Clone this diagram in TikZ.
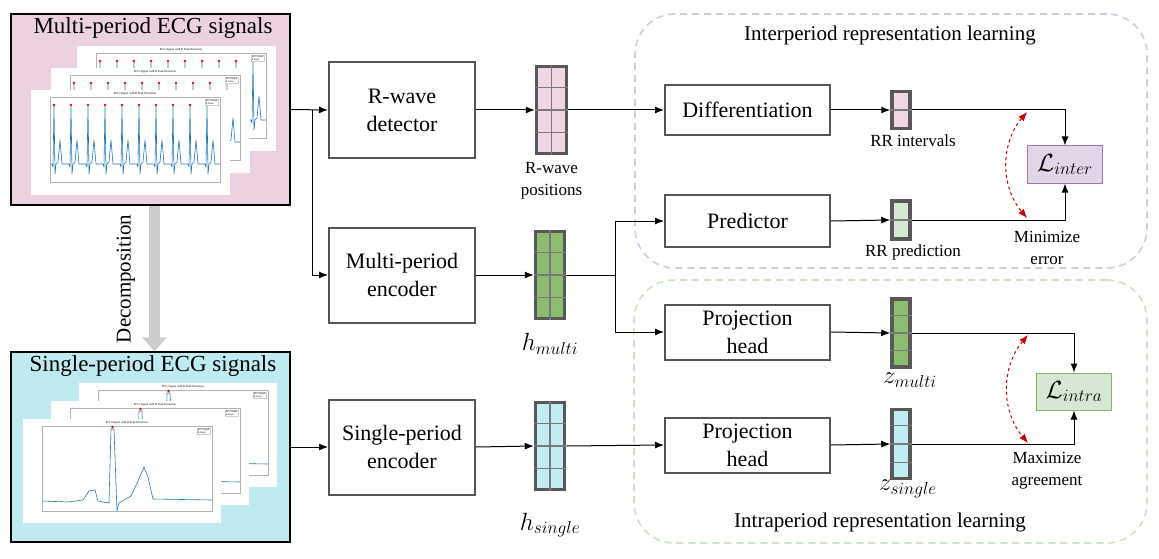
\documentclass[tikz,border=0pt]{standalone}
\usepackage{fontspec}
\setmainfont{Liberation Serif}
\usepackage{tikz}
\usetikzlibrary{positioning}
\usetikzlibrary{calc}
\usetikzlibrary{arrows.meta}
\definecolor{multi-bg}{RGB}{236,210,225}
\definecolor{single-bg}{RGB}{190,234,240}
\definecolor{vec-pink}{RGB}{240,214,228}
\definecolor{vec-green}{RGB}{140,188,112}
\definecolor{vec-cyan}{RGB}{192,236,242}
\definecolor{vec-lgreen}{RGB}{214,232,212}
\definecolor{vec-gray}{RGB}{88,88,88}
\definecolor{box-gray}{RGB}{85,85,85}
\definecolor{inter-fill}{RGB}{225,213,232}
\definecolor{inter-line}{RGB}{160,118,180}
\definecolor{intra-fill}{RGB}{214,232,212}
\definecolor{intra-line}{RGB}{128,182,100}
\definecolor{inter-reg}{RGB}{212,200,232}
\definecolor{intra-reg}{RGB}{205,228,195}
\definecolor{ecg-blue}{RGB}{31,119,180}

\begin{document}
\begin{tikzpicture}[x=1pt, y=-1pt, >={Latex[length=9pt,width=7pt]}]
    \tikzset{ pnl/.style={draw=black, line width=1.2pt, minimum width=279pt, minimum height=190pt} }
    \tikzset{ ttl/.style={font=\fontsize{23}{27}\selectfont, inner sep=0pt} }
    \tikzset{ blk/.style={draw=box-gray, line width=2pt, fill=white, minimum width=146pt, minimum height=95pt, align=center, font=\fontsize{22}{28}\selectfont} }
    \tikzset{ opr/.style={draw=box-gray, line width=2pt, fill=white, minimum width=165pt, align=center, font=\fontsize{22}{28}\selectfont} }
    \tikzset{ vec/.style={draw=vec-gray, line width=3.5pt, inner sep=0pt} }
    \tikzset{ cell/.style={draw=vec-gray!80, line width=1.2pt} }
    \tikzset{ loss/.style={line width=1pt, minimum width=75pt, minimum height=37pt, inner sep=0pt, font=\fontsize{26}{30}\selectfont} }
    \tikzset{ reg/.style={rounded corners=40pt, dash pattern=on 7pt off 5pt, line width=1.6pt} }
    \tikzset{ lbl/.style={font=\fontsize{17}{22}\selectfont, align=center, inner sep=0pt} }
    \tikzset{ sym/.style={font=\fontsize{27}{30}\selectfont, inner sep=0pt} }
    \tikzset{ lnk/.style={->, line width=1pt} }
    \tikzset{ agr/.style={<->, dashed, red!80!black, line width=1pt} }
    \tikzset{ ecg/.style={ecg-blue, line width=0.6pt, line join=round} }
    \tikzset{ axfr/.style={draw=gray!60, line width=0.4pt} }
    \tikzset{ ptitle/.style={font=\fontsize{3}{3.5}\selectfont, inner sep=0pt} }
    \tikzset{ pleg/.style={font=\fontsize{2.4}{3}\selectfont, align=left, inner sep=0.5pt, draw=gray!40, line width=0.2pt, fill=white} }

    \useasboundingbox (0,0) rectangle (1159,559);

    % regions
    \node[reg, draw=inter-reg, minimum width=512pt, minimum height=254pt] (interreg) at (891,141)   {};
    \node[reg, draw=intra-reg, minimum width=513pt, minimum height=263pt] (intrareg) at (890.5,411.5) {};
    \node[font=\fontsize{21}{25}\selectfont] (intertitle) at (890,35)  {Interperiod representation learning};
    \node[font=\fontsize{21}{25}\selectfont] (intratitle) at (880,522) {Intraperiod representation learning};

    % input panels
    \node[pnl, fill=multi-bg,  minimum height=191pt] (mpanel) at (150.5,109.5) {};
    \node[pnl, fill=single-bg]                         (spanel) at (150.5,447)   {};

    \foreach \ox/\oy in {77/46, 51/68, 31/90} {
        \fill[white] (\ox,\oy) rectangle ++(199,105);
        \draw[axfr] (\ox+19,\oy+7) rectangle (\ox+189,\oy+92);
        \node[ptitle] (mtit\ox) at (\ox+104,\oy+3.5) {ECG Signal with R Peak Detection};
        \draw[ecg] (\ox+19,\oy+74) \foreach \k in {0,...,9} { -- ++(2,0) -- ++(1,3) -- ++(1,-61) -- ++(1,68) -- ++(1,-10) -- ++(2,-2) -- ++(2,-22) -- ++(2,24) -- ++(5,0) };
        \foreach \k in {0,...,9} \fill[red] (\ox+23+17*\k,\oy+15) circle (1.3pt);
        \node[pleg, anchor=north east] (mleg\ox) at (\ox+187,\oy+9) {ECG Signal\\R Peaks};
    }
    \foreach \ox/\oy in {79/383, 51/401, 23/419} {
        \fill[white] (\ox,\oy) rectangle ++(198,104);
        \draw[axfr] (\ox+19,\oy+7) rectangle (\ox+189,\oy+92);
        \node[ptitle] (stit\ox) at (\ox+104,\oy+3.5) {ECG Signal with R Peak Detection};
        \draw[ecg] (\ox+20,\oy+82) -- (\ox+45,\oy+83) -- (\ox+60,\oy+81) -- (\ox+66,\oy+72) -- (\ox+72,\oy+71) -- (\ox+75,\oy+82) -- (\ox+86,\oy+84) -- (\ox+88,\oy+10) -- (\ox+91,\oy+10) -- (\ox+94,\oy+92) -- (\ox+96,\oy+84) -- (\ox+108,\oy+77) -- (\ox+115,\oy+62) -- (\ox+121,\oy+48) -- (\ox+125,\oy+58) -- (\ox+130,\oy+80) -- (\ox+189,\oy+81);
        \fill[red] (\ox+89.5,\oy+8) circle (1.3pt);
        \node[pleg, anchor=north east] (sleg\ox) at (\ox+187,\oy+9) {ECG Signal\\R Peaks};
    }
    \node[ttl] (mtitle) at (153,28)  {Multi-period ECG signals};
    \node[ttl] (stitle) at (153,366) {Single-period ECG signals};

    \draw[-{Triangle[width=24pt,length=14pt]}, line width=11pt, gray!40] ([xshift=4pt]mpanel.south) -- ([xshift=4pt]spanel.north);
    \node[rotate=90, font=\fontsize{21}{25}\selectfont] (declbl) at (126,279) {Decomposition};

    % encoders
    \node[blk] (rdet) at (402,110) {R-wave\\detector};
    \node[blk] (menc) at (402,275) {Multi-period\\encoder};
    \node[blk] (senc) at (402,447) {Single-period\\encoder};

    \node[vec, fill=vec-pink,  minimum width=30pt, minimum height=87pt] (rpos) at (551.5,110) {};
    \node[vec, fill=vec-green, minimum width=29pt, minimum height=87pt] (hmul) at (550,275)   {};
    \node[vec, fill=vec-cyan,  minimum width=29pt, minimum height=87pt] (hsin) at (550,446)   {};

    \node[lbl, below=7pt of rpos] (rposlbl) {R-wave\\positions};
    \node[sym] (hmullbl) at (550,344) {$h_{multi}$};
    \node[sym] (hsinlbl) at (550,525) {$h_{single}$};

    % heads
    \node[opr, minimum height=50pt] (diff)  at (747.5,110) {Differentiation};
    \node[opr, minimum height=52pt] (pred)  at (747.5,221) {Predictor};
    \node[opr, minimum height=55pt] (proj1) at (747.5,332) {Projection\\head};
    \node[opr, minimum height=55pt] (proj2) at (747.5,445) {Projection\\head};

    \node[vec, fill=vec-pink,   minimum width=18pt, minimum height=37pt] (rri)  at (901,110) {};
    \node[vec, fill=vec-lgreen, minimum width=18pt, minimum height=38pt] (rrp)  at (901,220) {};
    \node[vec, fill=vec-green,  minimum width=18pt, minimum height=68pt] (zmul) at (901,333) {};
    \node[vec, fill=vec-cyan,   minimum width=18pt, minimum height=69pt] (zsin) at (901,444) {};

    \node[lbl] (rrilbl)  at (913,141) {RR intervals};
    \node[lbl] (rrplbl)  at (913,252) {RR prediction};
    \node[sym] (zmullbl) at (910,380) {$z_{multi}$};
    \node[sym] (zsinlbl) at (908,489) {$z_{single}$};

    \node[loss, draw=inter-line, fill=inter-fill] (linter) at (1065,164.5) {$\mathcal{L}_{inter}$};
    \node[loss, draw=intra-line, fill=intra-fill] (lintra) at (1074,391.5) {$\mathcal{L}_{intra}$};
    \node[lbl] (minlbl) at (1047,248) {Minimize\\error};
    \node[lbl] (maxlbl) at (1047,471) {Maximize\\agreement};

    % cells
    \foreach \v in {rpos,hmul,hsin} {
        \draw[cell] (\v.north) -- (\v.south);
        \foreach \i in {1,2,3} \draw[cell] ($(\v.north west)!\i/4!(\v.south west)$) -- ($(\v.north east)!\i/4!(\v.south east)$);
    }
    \foreach \v in {zmul,zsin} {
        \foreach \i in {1,2,3} \draw[cell] ($(\v.north west)!\i/4!(\v.south west)$) -- ($(\v.north east)!\i/4!(\v.south east)$);
    }
    \foreach \v in {rri,rrp} \draw[cell] (\v.west) -- (\v.east);

    % connectors
    \coordinate (br1) at (312,110);
    \coordinate (br2) at (615,275);
    \draw[lnk] (mpanel.east) -- (rdet.west);
    \draw[lnk] (br1) |- (menc.west);
    \draw[lnk] (spanel.east) -- (senc.west);
    \draw[lnk] (rdet.east) -- (rpos.west);
    \draw[lnk] (menc.east) -- (hmul.west);
    \draw[lnk] (senc.east) -- (hsin.west);
    \draw[lnk] (rpos.east) -- (diff.west);
    \draw[line width=1pt] (hmul.east) -- (br2);
    \draw[lnk] (br2) |- (pred.west);
    \draw[lnk] (br2) |- (proj1.west);
    \draw[lnk] (hsin.east) -- (proj2.west);
    \draw[lnk] (diff.east)  -- (rri.west);
    \draw[lnk] (pred.east)  -- (rrp.west);
    \draw[lnk] (proj1.east) -- (zmul.west);
    \draw[lnk] (proj2.east) -- (zsin.west);
    \draw[lnk] (rri.east)  -| (linter.north);
    \draw[lnk] (rrp.east)  -| (linter.south);
    \draw[lnk] (zmul.east) -| (lintra.north);
    \draw[lnk] (zsin.east) -| (lintra.south);

    \coordinate (ea) at (1027,112);
    \coordinate (eb) at (1027,218);
    \coordinate (aa) at (1028,335);
    \coordinate (ab) at (1028,443);
    \draw[agr] (ea) to[bend right=40] (eb);
    \draw[agr] (aa) to[bend right=40] (ab);
\end{tikzpicture}
\end{document}
